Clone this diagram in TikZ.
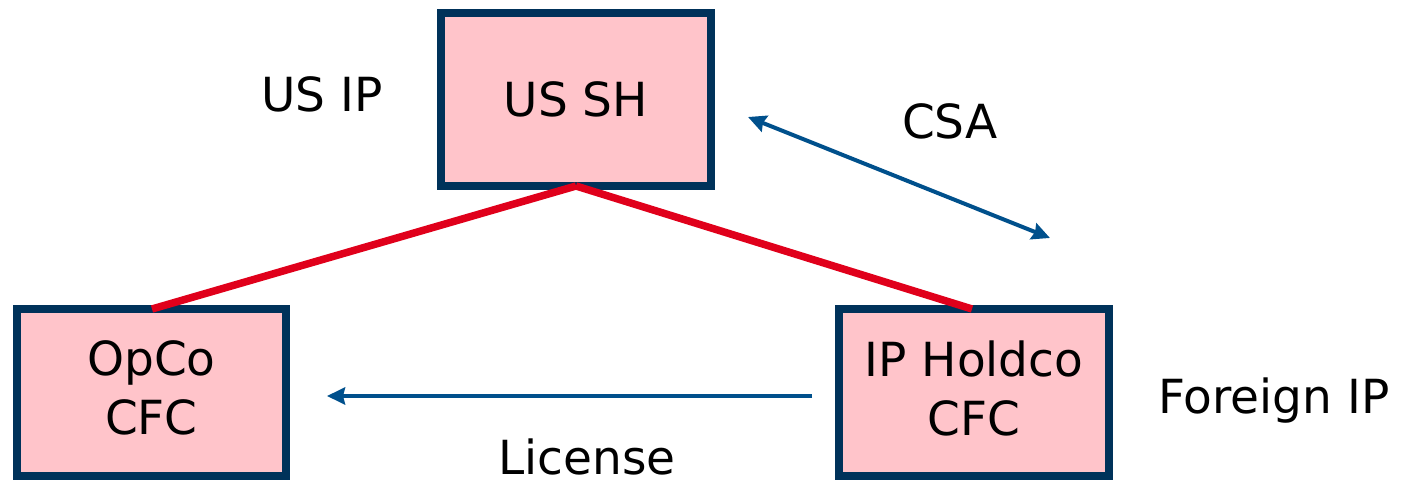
\documentclass[tikz,border=0pt]{standalone}
\usepackage{fontspec}
\setmainfont{DejaVu Sans}
\usetikzlibrary{arrows.meta}
\definecolor{boxline}{HTML}{00325A}
\definecolor{boxfill}{HTML}{FFC4CA}
\definecolor{tie}{HTML}{E0001B}
\definecolor{flow}{HTML}{00508C}
\begin{document}
\begin{tikzpicture}[x=1pt,y=-1pt,
  entity/.style={draw=boxline, fill=boxfill, line width=8pt, outer sep=0pt,
    inner sep=0pt, align=center, font=\fontsize{47}{59}\selectfont},
  caption/.style={anchor=base, inner sep=0pt, font=\fontsize{47}{59}\selectfont},
  owns/.style={draw=tie, line width=7.5pt},
  tip/.style={arrows={-Stealth[length=18pt,width=17pt,inset=2pt]}},
  deal/.style={draw=flow, line width=4pt, tip},
  deal2/.style={draw=flow, line width=4pt,
    arrows={Stealth[length=18pt,width=17pt,inset=2pt]-Stealth[length=18pt,width=17pt,inset=2pt]}}]
\useasboundingbox (0,0) rectangle (1405,481);

% entities
\node[entity, minimum width=270pt, minimum height=173pt] (ussh) at (576,99.5) {US SH};
\node[entity, minimum width=269pt, minimum height=167pt, text depth=9pt] (opco) at (151.5,392.5) {OpCo\\CFC};
\node[entity, minimum width=270pt, minimum height=167pt, text depth=9pt] (iph) at (974,392.5) {IP Holdco\\CFC};

% ownership lines
\draw[owns] (ussh.south) -- (opco.north -| 152,0);
\draw[owns] (ussh.south) -- (iph.north -| 972,0);

% cost sharing arrangement
\coordinate (csaA) at (748,117);
\coordinate (csaB) at (1050,238);
\draw[deal2] (csaA) -- (csaB);

% license flow
\coordinate (licA) at (812,396);
\coordinate (licB) at (327,396);
\draw[deal] (licA) -- (licB);

% labels
\node[caption] (usip) at (322,112) {US IP};
\node[caption] (csa) at (950,139) {CSA};
\node[caption] (forip) at (1274,413) {Foreign IP};
\node[caption] (lic) at (587,474) {License};
\end{tikzpicture}
\end{document}
